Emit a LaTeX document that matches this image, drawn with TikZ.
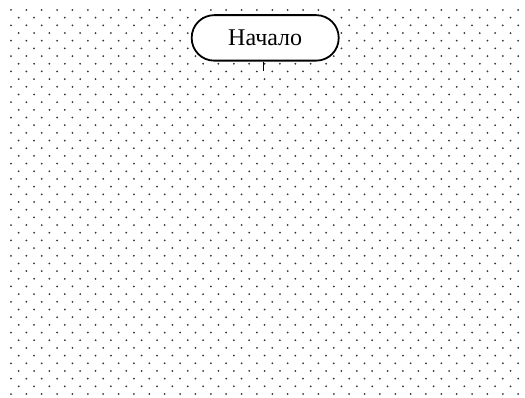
\documentclass[tikz,border=0pt]{standalone}
\usepackage{fontspec}
\setmainfont{Liberation Serif}
\begin{document}
\begin{tikzpicture}[x=1pt,y=-1pt,
  dotmark/.style={fill=black!80,draw=none},
  terminal/.style={draw,line width=1.8pt,fill=white,rounded corners=22.5pt,
    minimum width=147pt,minimum height=45.5pt,inner sep=0pt,
    font=\fontsize{24}{28}\selectfont},
  flowline/.style={line width=1.3pt}]
\useasboundingbox (0,0) rectangle (525,398);
\fill[white] (0,0) rectangle (525,398);
% dotted background
\foreach \j in {0,...,25}{
  \foreach \k in {0,...,33}{
    \fill[dotmark] ({11+15.37*\k},{10+15.36*\j}) circle (1pt);
  }
}
\foreach \j in {0,...,24}{
  \foreach \k in {0,...,32}{
    \fill[dotmark] ({18.68+15.37*\k},{17.68+15.36*\j}) circle (1pt);
  }
}
\node[terminal] (start) at (265.2,37.9) {Начало};
\coordinate (lineend) at (263.3,71.5);
\draw[flowline] (start.south -| lineend) -- (lineend);
\end{tikzpicture}
\end{document}
